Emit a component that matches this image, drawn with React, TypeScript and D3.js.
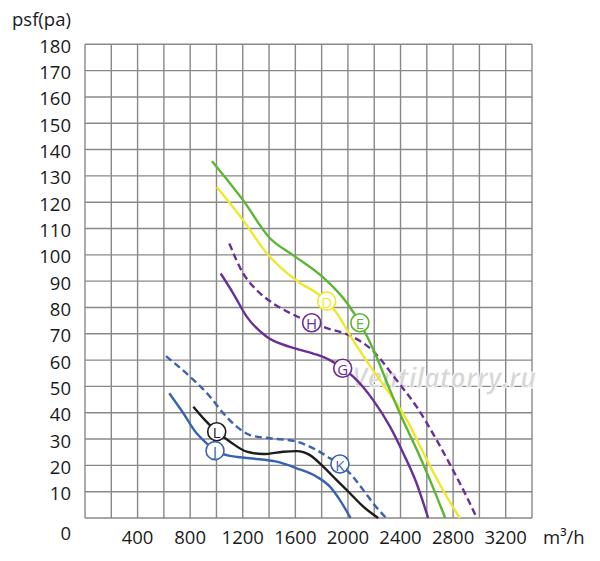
import React, { useEffect, useRef } from "react";
import * as d3 from "d3";

const yTicks = [10, 20, 30, 40, 50, 60, 70, 80, 90, 100, 110, 120, 130, 140, 150, 160, 170, 180];
const xTicks = [400, 800, 1200, 1600, 2000, 2400, 2800, 3200];

const curveE: [number, number][] = [[966,135.6],[1202,120.8],[1407,106.3],[1582,99.9],[1810,91.5],[1993,81.7],[2091,74.1],[2205,62.7],[2320,48.6],[2418,37.2],[2525,25.8],[2624,14.4],[2740,0]];
const curveD: [number, number][] = [[1002,125.8],[1202,113.2],[1382,100.6],[1483,95.4],[1635,89.3],[1762,85.5],[1838,82.4],[1914,77.9],[2038,67.6],[2190,56.2],[2320,47],[2449,37.2],[2601,22.0],[2723,10.6],[2850,0]];
const curveH: [number, number][] = [[1098,104.3],[1202,93],[1306,86.6],[1430,81.6],[1559,77.9],[1724,74.2],[1850,72],[2030,69],[2190,63.5],[2360,53],[2522,42.3],[2675,29.6],[2799,18.2],[2903,8.1],[2980,0]];
const curveG: [number, number][] = [[1032,92.9],[1128,85.3],[1230,76.5],[1382,68.9],[1559,65],[1736,62.5],[1863,60],[1960,56.9],[2040,53.7],[2192,44.8],[2320,34.7],[2421,24.6],[2522,13.2],[2610,0]];
const curveK: [number, number][] = [[616,61.5],[799,53.7],[951,46.1],[1052,39.8],[1154,34.7],[1255,31.5],[1407,30.3],[1610,29],[1762,25.8],[1863,22.7],[1939,20.5],[2015,17],[2117,10.6],[2192,5.6],[2290,0]];
const curveJ: [number, number][] = [[641,47.4],[748,39.8],[849,32.2],[925,28.4],[989,25.6],[1078,23.9],[1255,22.7],[1458,21.4],[1610,18.9],[1762,15.7],[1863,11.9],[1939,6.8],[2020,0]];
const curveL: [number, number][] = [[824,42.3],[913,37.2],[1002,32.8],[1103,29],[1230,25.2],[1356,24.3],[1508,25.2],[1610,25.4],[1711,23.9],[1812,19.5],[1914,14.4],[2015,9.4],[2117,4.3],[2230,0]];

const series = [
  { name: "H", data: curveH, color: "#6a2e98", dashed: true },
  { name: "G", data: curveG, color: "#6a2e98", dashed: false },
  { name: "D", data: curveD, color: "#eee82c", dashed: false },
  { name: "E", data: curveE, color: "#5cb533", dashed: false },
  { name: "K", data: curveK, color: "#3b62b0", dashed: true },
  { name: "J", data: curveJ, color: "#3b62b0", dashed: false },
  { name: "L", data: curveL, color: "#1c1c1c", dashed: false },
];

const labelNames = ["D", "E", "H", "G", "L", "J", "K"];
const labelFlow = [1838, 2091, 1724, 1960, 1002, 989, 1939];
const labelPressure = [82.4, 74.2, 74.2, 56.9, 32.8, 25.6, 20.5];
const labelColors = ["#eee82c", "#5cb533", "#6a2e98", "#6a2e98", "#1c1c1c", "#3b62b0", "#3b62b0"];

const W = 600, H = 561;
const left = 85, right = 532, top = 44.3, bottom = 518;

export default function App() {
  const ref = useRef<SVGSVGElement>(null);
  useEffect(() => {
    const svg = d3.select(ref.current);
    svg.selectAll("*").remove();
    const x = d3.scaleLinear().domain([0, 3400]).range([left, right]);
    const y = d3.scaleLinear().domain([0, 180]).range([bottom, top]);
    const font = "'Open Sans', 'Noto Sans', sans-serif";
    const grid = svg.append("g");
    d3.range(0, 3401, 200).forEach((v) => {
      grid.append("line").attr("x1", x(v)).attr("x2", x(v)).attr("y1", y(0)).attr("y2", y(180))
        .attr("stroke", "#888").attr("stroke-width", 1.4);
    });
    d3.range(0, 181, 10).forEach((v) => {
      grid.append("line").attr("x1", x(0)).attr("x2", x(3400)).attr("y1", y(v)).attr("y2", y(v))
        .attr("stroke", "#888").attr("stroke-width", 1.4);
    });
    // watermark
    svg.append("text").attr("x", 352).attr("y", 388).attr("font-family", font)
      .attr("font-style", "italic").attr("font-weight", "bold").attr("font-size", 28).attr("fill", "#d6d6d6")
      .attr("stroke", "#fff").attr("stroke-width", 0.8)
      .attr("textLength", 184).attr("lengthAdjust", "spacingAndGlyphs").text("Ventilatorry.ru");

    const line = d3.line<[number, number]>().x((d) => x(d[0])).y((d) => y(d[1])).curve(d3.curveMonotoneX);
    series.forEach((s) => {
      svg.append("path").attr("d", line(s.data) as string).attr("fill", "none")
        .attr("stroke", s.color).attr("stroke-width", 2.4)
        .attr("stroke-dasharray", s.dashed ? "7,4" : null);
    });
    labelNames.forEach((n, i) => {
      const g = svg.append("g").attr("transform", `translate(${x(labelFlow[i])},${y(labelPressure[i])})`);
      g.append("circle").attr("r", 9).attr("fill", "#fff").attr("stroke", labelColors[i]).attr("stroke-width", 1.6);
      g.append("text").attr("text-anchor", "middle").attr("dominant-baseline", "central").attr("y", 0.5)
        .attr("font-family", font).attr("font-size", 15).attr("fill", labelColors[i]).text(n);
    });
    // axis labels
    const fs = 18.5;
    yTicks.forEach((v) => {
      svg.append("text").attr("x", 71).attr("y", y(v) + 1).attr("text-anchor", "end")
        .attr("dominant-baseline", "central").attr("font-family", font).attr("font-size", fs)
        .attr("fill", "#1a1a1a").text(String(v));
    });
    svg.append("text").attr("x", 71).attr("y", 532).attr("text-anchor", "end")
      .attr("dominant-baseline", "central").attr("font-family", font).attr("font-size", fs)
      .attr("fill", "#1a1a1a").text("0");
    xTicks.forEach((v) => {
      svg.append("text").attr("x", x(v)).attr("y", 536).attr("text-anchor", "middle")
        .attr("dominant-baseline", "central").attr("font-family", font).attr("font-size", fs)
        .attr("fill", "#1a1a1a").text(String(v));
    });
    svg.append("text").attr("x", 543).attr("y", 536).attr("dominant-baseline", "central")
      .attr("font-family", font).attr("font-size", fs).attr("fill", "#1a1a1a").text("m³/h");
    svg.append("text").attr("x", 12).attr("y", 18).attr("dominant-baseline", "central")
      .attr("font-family", font).attr("font-size", fs).attr("fill", "#1a1a1a").text("psf(pa)");
  }, []);
  return (
    <svg ref={ref} width={W} height={H} style={{ position: "absolute", left: 0, top: 0, background: "#fff" }} />
  );
}
